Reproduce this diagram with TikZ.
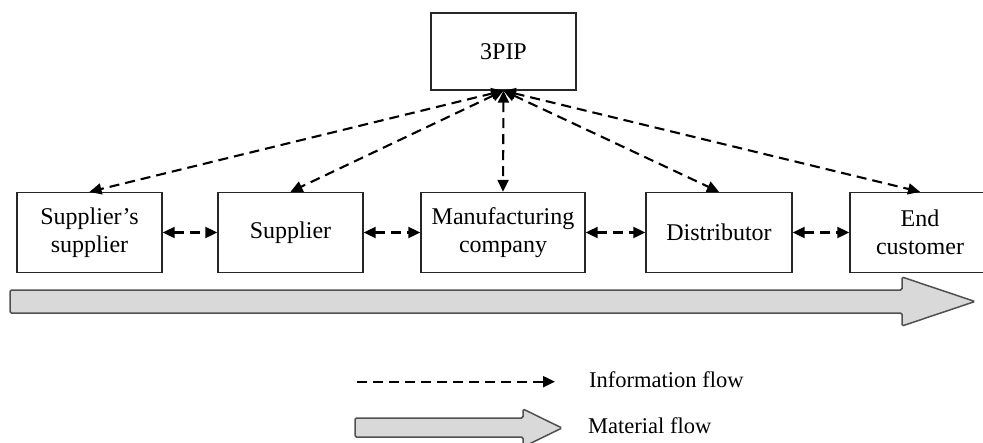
\documentclass[tikz,border=0pt]{standalone}
\usepackage{fontspec}
\setmainfont{Liberation Serif}
\usetikzlibrary{arrows.meta}
\definecolor{flowfill}{HTML}{D9D9D9}
\definecolor{flowedge}{HTML}{505050}
\begin{document}
\begin{tikzpicture}[x=1pt,y=-1pt,
  box/.style={draw=black!85,line width=1.4pt,fill=white,inner sep=0pt,
    minimum height=80pt,align=center,font=\fontsize{24}{28.5}\selectfont},
  tip/.tip={Triangle[length=12pt,width=11pt]},
  info/.style={line width=2.1pt,dash pattern=on 10pt off 6pt,tip-tip},
  infoone/.style={line width=2.1pt,dash pattern=on 10pt off 6pt,-tip},
  material/.style={draw=flowedge,fill=flowfill,line width=1.5pt,rounded corners=1.5pt},
  legend/.style={anchor=base west,inner sep=0pt,font=\fontsize{22.5}{27}\selectfont}]
  \clip (0,0) rectangle (983,442);

  % third-party information provider
  \node[box,minimum width=145pt,minimum height=77pt] (pip) at (503.5,51.5) {3PIP};

  % supply chain members
  \node[box,minimum width=145pt] (ss)  at (89.5,232.5) {Supplier's\\supplier};
  \node[box,minimum width=145pt] (sup) at (290.5,232.5) {Supplier};
  \node[box,minimum width=164pt] (man) at (503,232.5) {Manufacturing\\company};
  \node[box,minimum width=146pt] (dis) at (719,232.5) {Distributor};
  \node[box,minimum width=140pt] (end) at (920,232.5) {End\\customer};

  % information exchange with the 3PIP
  \draw[info] (pip.south) -- (ss.north);
  \draw[info] (pip.south) -- (sup.north);
  \draw[info] (pip.south) -- (man.north);
  \draw[info] (pip.south) -- (dis.north);
  \draw[info] (pip.south) -- (end.north);

  % information exchange between neighbours
  \draw[info] (ss.east)  -- (sup.west);
  \draw[info] (sup.east) -- (man.west);
  \draw[info] (man.east) -- (dis.west);
  \draw[info] (dis.east) -- (end.west);

  % material flow along the chain
  \draw[material] (10,290) -- (902,290) -- (902,277) -- (975,301.5)
    -- (902,326) -- (902,313) -- (10,313) -- cycle;

  % legend
  \coordinate (la) at (357,381.7);
  \coordinate (lb) at (555,381.7);
  \draw[infoone] (la) -- (lb);
  \node[legend] (linfo) at (589,387) {Information flow};

  \draw[material] (355,418) -- (523,418) -- (523,409) -- (562,428)
    -- (523,447) -- (523,437) -- (355,437) -- cycle;
  \node[legend] (lmat) at (588,433) {Material flow};
\end{tikzpicture}
\end{document}
